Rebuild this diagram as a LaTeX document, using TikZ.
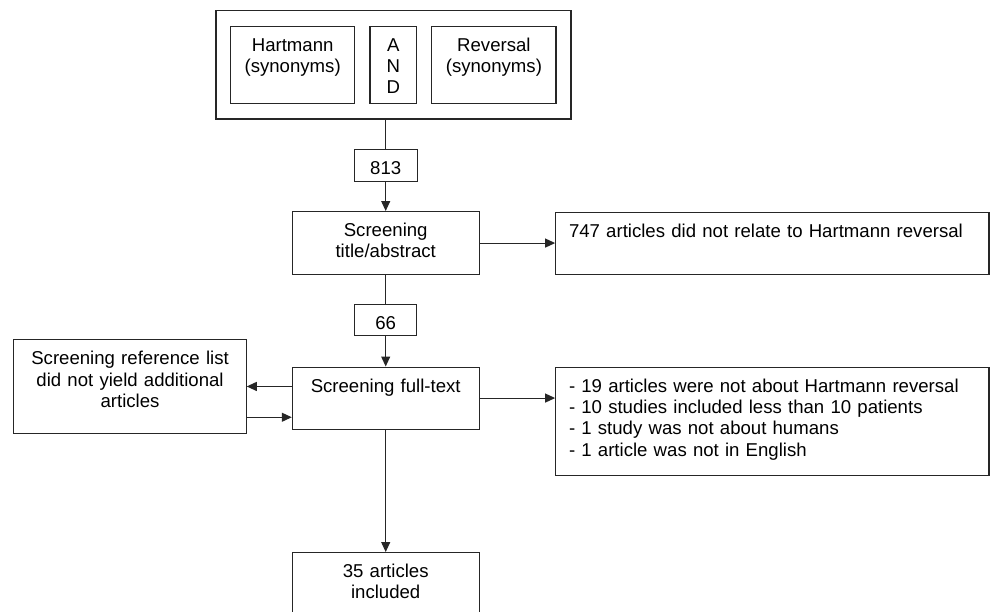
\documentclass[tikz,border=0pt]{standalone}
\usepackage{fontspec}
\setmainfont{Liberation Sans}
\usetikzlibrary{arrows.meta}

\begin{document}
\begin{tikzpicture}[
    x=1pt, y=-1pt,
    flowbox/.style={draw=black!85, line width=1.1pt, inner sep=0pt, anchor=north,
        text width=#1, text height=25pt, align=center,
        font=\fontsize{18.6}{21.3}\selectfont},
    listbox/.style={flowbox=#1, inner xsep=13.3pt, align=left},
    conn/.style={draw=black!85, line width=1.1pt},
    arr/.style={conn, -{Triangle[length=10pt, width=9pt]}}
]
    \useasboundingbox (0,0) rectangle (990,611);

    % Search terms
    \node[draw=black!85, line width=1.1pt, inner sep=0pt,
          minimum width=355pt, minimum height=108.3pt] (search) at (393.5,64.85) {};
    \node[flowbox=124.3pt, text depth=52.3pt] (hart) at (292.65,25.7) {Hartmann\\(synonyms)};
    \node[flowbox=46.7pt, text depth=52.3pt] (and) at (393.35,25.7) {A\\N\\D};
    \node[flowbox=124.2pt, text depth=52.3pt] (rev) at (493.9,25.7) {Reversal\\(synonyms)};

    % Hits
    \node[flowbox=62.7pt, text depth=6.7pt] (n813) at (385.7,149.3) {813};
    \draw[conn] (search.south -| n813.north) -- (n813.north);

    % Screening title/abstract
    \node[flowbox=186.7pt, text depth=38pt] (title) at (385.7,211) {Screening\\title/abstract};
    \node[listbox=406.7pt, text depth=37.3pt] (excl1) at (772.35,211.7)
        {747 articles did not relate to Hartmann reversal};
    \draw[arr] (n813) -- (title);
    \draw[arr] (title) -- (title -| excl1.west);

    % Screening full-text
    \node[flowbox=61.8pt, text depth=6pt] (n66) at (385.7,304.3) {66};
    \node[flowbox=186.7pt, text depth=37pt] (full) at (385.7,366.5) {Screening full-text};
    \draw[conn] (title) -- (n66);
    \draw[arr] (n66) -- (full);

    % Reference lists
    \node[flowbox=232.3pt, text depth=68.2pt] (refs) at (130.05,339.3)
        {Screening reference list\\did not yield additional\\articles};
    \draw[arr] (full.west |- refs.east) -- (refs.east);
    \draw[arr] ([yshift=-30.8pt]refs.east) -- ([yshift=-30.8pt]refs.east -| full.west);

    % Exclusions
    \node[listbox=406.7pt, text depth=82.8pt] (excl2) at (772.35,366.7)
        {- 19 articles were not about Hartmann reversal\\
         - 10 studies included less than 10 patients\\
         - 1 study was not about humans\\
         - 1 article was not in English};
    \draw[arr] (full) -- (full -| excl2.west);

    % Included
    \node[flowbox=186.7pt, text depth=53pt] (final) at (385.7,552) {35 articles\\included};
    \draw[arr] (full) -- (final);

\end{tikzpicture}
\end{document}
